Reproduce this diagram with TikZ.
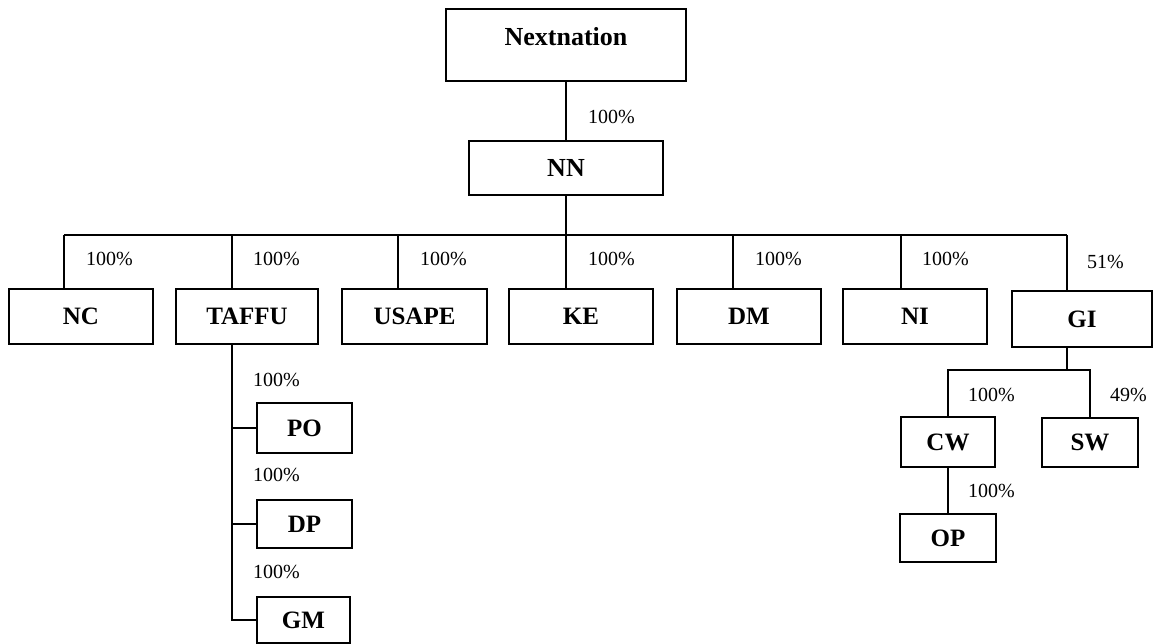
\documentclass[tikz,border=0pt]{standalone}
\usepackage{fontspec}
\setmainfont{Liberation Serif}
\begin{document}
\begin{tikzpicture}[x=1pt,y=-1pt,
  box/.style={draw, line width=1.8pt, font=\fontsize{25}{30}\selectfont\bfseries, inner sep=0pt},
  bigbox/.style={box, font=\fontsize{26}{30}\selectfont\bfseries},
  pct/.style={font=\fontsize{20}{24}\selectfont, anchor=west, inner sep=0pt},
  conn/.style={line width=1.8pt}]
\useasboundingbox (0,0) rectangle (1154,643);
% boxes
\node[bigbox, minimum width=240pt, minimum height=72pt] (nextnation) at (566,45) {\raisebox{0pt}[0pt][0pt]{Nextnation}};
\node[bigbox, minimum width=194pt, minimum height=54pt] (NN) at (566,168) {NN};
\node[box, minimum width=144pt, minimum height=55pt] (NC) at (81,316.5) {NC};
\node[box, minimum width=142pt, minimum height=55pt] (TAFFU) at (247,316.5) {TAFFU};
\node[box, minimum width=145pt, minimum height=55pt] (USAPE) at (414.5,316.5) {USAPE};
\node[box, minimum width=144pt, minimum height=55pt] (KE) at (581,316.5) {KE};
\node[box, minimum width=144pt, minimum height=55pt] (DM) at (749,316.5) {DM};
\node[box, minimum width=144pt, minimum height=55pt] (NI) at (915,316.5) {NI};
\node[box, minimum width=140pt, minimum height=56pt] (GI) at (1082,319) {GI};
\node[box, minimum width=95pt, minimum height=50pt] (PO) at (304.5,428) {PO};
\node[box, minimum width=95pt, minimum height=48pt] (DP) at (304.5,524) {DP};
\node[box, minimum width=93pt, minimum height=46pt] (GM) at (303.5,620) {GM};
\node[box, minimum width=94pt, minimum height=50pt] (CW) at (948,442) {CW};
\node[box, minimum width=96pt, minimum height=49pt] (SW) at (1090,442.5) {SW};
\node[box, minimum width=96pt, minimum height=48pt] (OP) at (948,538) {OP};
% connectors
\draw[conn] (nextnation.south) -- (NN.north);
\coordinate (bus) at (566,235);
\draw[conn] (NN.south) -- (bus);
\coordinate (dNC) at (64,235);
\coordinate (dTA) at (232,235);
\coordinate (dUS) at (398,235);
\coordinate (dKE) at (566,235);
\coordinate (dDM) at (733,235);
\coordinate (dNI) at (901,235);
\coordinate (dGI) at (1067,235);
\draw[conn] (dNC) -- (dGI);
\foreach \c/\n in {dNC/NC, dTA/TAFFU, dUS/USAPE, dKE/KE, dDM/DM, dNI/NI, dGI/GI}
  \draw[conn] (\c) -- (\c |- \n.north);
\coordinate (tv) at (232,343);
\draw[conn] (tv) |- (GM.west);
\draw[conn] (tv) |- (PO.west);
\draw[conn] (tv) |- (DP.west);
\coordinate (gv) at (1067,347);
\coordinate (gj) at (1067,370);
\draw[conn] (gv) -- (gj);
\draw[conn] (CW.north) |- (gj) -- (SW.north |- gj) -- (SW.north);
\draw[conn] (CW.south) -- (OP.north);
% labels
\node[pct] (l0) at (588,117) {100\%};
\node[pct] (l1) at (86,259) {100\%};
\node[pct] (l2) at (253,259) {100\%};
\node[pct] (l3) at (420,259) {100\%};
\node[pct] (l4) at (588,259) {100\%};
\node[pct] (l5) at (755,259) {100\%};
\node[pct] (l6) at (922,259) {100\%};
\node[pct] (l7) at (1087,262) {51\%};
\node[pct] (l8) at (253,380) {100\%};
\node[pct] (l9) at (253,475) {100\%};
\node[pct] (l10) at (253,572) {100\%};
\node[pct] (l11) at (968,395) {100\%};
\node[pct] (l12) at (1110,395) {49\%};
\node[pct] (l13) at (968,491) {100\%};
\end{tikzpicture}
\end{document}
